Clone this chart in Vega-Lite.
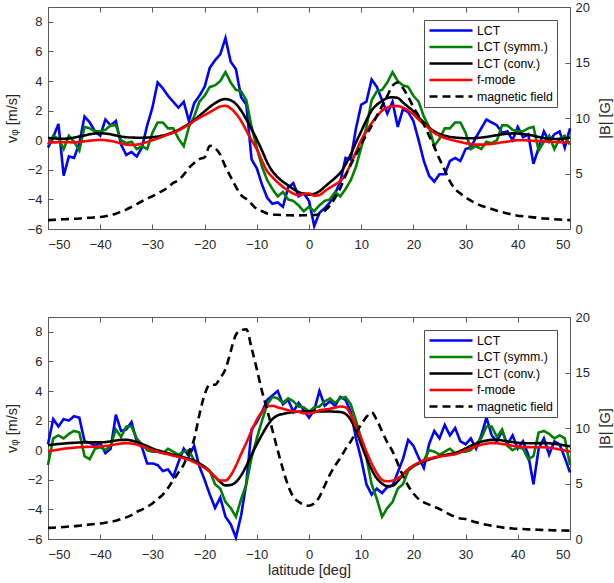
{
  "$schema": "https://vega.github.io/schema/vega-lite/v6.json",
  "background": "white",
  "padding": {"left": 3, "top": 0, "right": 4, "bottom": 2},
  "bounds": "flush",
  "spacing": 88,
  "datasets": {
    "top": [
      {"lat": -50, "lct": -0.5, "sym": -0.3, "conv": 0.15, "fm": -0.15, "B": 0.8},
      {"lat": -49, "lct": 0.2, "sym": 0.3, "conv": 0.12, "fm": -0.15, "B": 0.82},
      {"lat": -48, "lct": 1.1, "sym": 0.1, "conv": 0.1, "fm": -0.14, "B": 0.85},
      {"lat": -47, "lct": -2.4, "sym": -0.6, "conv": 0.1, "fm": -0.13, "B": 0.88},
      {"lat": -46, "lct": -1.1, "sym": 0.3, "conv": 0.12, "fm": -0.14, "B": 0.9},
      {"lat": -45, "lct": -1.2, "sym": -0.1, "conv": 0.18, "fm": -0.15, "B": 0.92},
      {"lat": -44, "lct": -0.2, "sym": -0.7, "conv": 0.25, "fm": -0.12, "B": 0.95},
      {"lat": -43, "lct": 1.6, "sym": 0.9, "conv": 0.32, "fm": -0.08, "B": 1.0},
      {"lat": -42, "lct": 1.2, "sym": 0.8, "conv": 0.4, "fm": -0.03, "B": 1.02},
      {"lat": -41, "lct": 0.6, "sym": 0.6, "conv": 0.45, "fm": 0.0, "B": 1.05},
      {"lat": -40, "lct": 0.3, "sym": 0.6, "conv": 0.47, "fm": 0.02, "B": 1.08},
      {"lat": -39, "lct": 1.4, "sym": 0.7, "conv": 0.45, "fm": 0.0, "B": 1.15},
      {"lat": -38, "lct": 1.0, "sym": 1.0, "conv": 0.4, "fm": -0.05, "B": 1.25},
      {"lat": -37, "lct": 1.3, "sym": 1.0, "conv": 0.32, "fm": -0.12, "B": 1.38},
      {"lat": -36, "lct": -0.3, "sym": 0.0, "conv": 0.25, "fm": -0.22, "B": 1.55},
      {"lat": -35, "lct": -1.0, "sym": -0.2, "conv": 0.2, "fm": -0.3, "B": 1.75},
      {"lat": -34, "lct": -0.8, "sym": -0.1, "conv": 0.18, "fm": -0.32, "B": 2.0},
      {"lat": -33, "lct": -1.1, "sym": -0.6, "conv": 0.17, "fm": -0.3, "B": 2.25},
      {"lat": -32, "lct": -0.5, "sym": -0.4, "conv": 0.17, "fm": -0.22, "B": 2.5},
      {"lat": -31, "lct": 1.0, "sym": -0.6, "conv": 0.18, "fm": -0.12, "B": 2.75},
      {"lat": -30, "lct": 2.2, "sym": 0.5, "conv": 0.2, "fm": 0.0, "B": 2.95},
      {"lat": -29, "lct": 3.9, "sym": 1.2, "conv": 0.25, "fm": 0.12, "B": 3.2},
      {"lat": -28, "lct": 3.5, "sym": 1.2, "conv": 0.32, "fm": 0.25, "B": 3.45},
      {"lat": -27, "lct": 3.0, "sym": 0.8, "conv": 0.42, "fm": 0.38, "B": 3.75},
      {"lat": -26, "lct": 2.6, "sym": 0.8, "conv": 0.55, "fm": 0.5, "B": 4.15},
      {"lat": -25, "lct": 2.2, "sym": 0.1, "conv": 0.7, "fm": 0.65, "B": 4.4},
      {"lat": -24, "lct": 2.6, "sym": -0.4, "conv": 0.9, "fm": 0.85, "B": 4.9},
      {"lat": -23, "lct": 1.3, "sym": 0.9, "conv": 1.1, "fm": 1.05, "B": 5.5},
      {"lat": -22, "lct": 2.5, "sym": 1.6, "conv": 1.35, "fm": 1.3, "B": 5.95},
      {"lat": -21, "lct": 3.0, "sym": 2.6, "conv": 1.65, "fm": 1.5, "B": 6.3},
      {"lat": -20, "lct": 3.6, "sym": 3.0, "conv": 1.95, "fm": 1.7, "B": 6.45},
      {"lat": -19, "lct": 4.9, "sym": 3.6, "conv": 2.25, "fm": 1.9, "B": 7.5},
      {"lat": -18, "lct": 5.4, "sym": 3.7, "conv": 2.5, "fm": 2.1, "B": 7.3},
      {"lat": -17, "lct": 5.8, "sym": 4.0, "conv": 2.7, "fm": 2.28, "B": 6.7},
      {"lat": -16, "lct": 6.9, "sym": 4.6, "conv": 2.78, "fm": 2.32, "B": 5.6},
      {"lat": -15, "lct": 5.3, "sym": 3.9, "conv": 2.7, "fm": 2.15, "B": 4.7},
      {"lat": -14, "lct": 4.8, "sym": 3.4, "conv": 2.45, "fm": 1.8, "B": 3.8},
      {"lat": -13, "lct": 2.9, "sym": 3.3, "conv": 2.0, "fm": 1.3, "B": 3.05},
      {"lat": -12, "lct": 2.4, "sym": 2.7, "conv": 1.4, "fm": 0.65, "B": 2.7},
      {"lat": -11, "lct": -1.3, "sym": 0.9, "conv": 0.75, "fm": 0.0, "B": 2.25},
      {"lat": -10, "lct": -1.9, "sym": -0.5, "conv": 0.05, "fm": -0.6, "B": 1.8},
      {"lat": -9, "lct": -3.0, "sym": -1.8, "conv": -0.7, "fm": -1.4, "B": 1.6},
      {"lat": -8, "lct": -3.9, "sym": -2.7, "conv": -1.5, "fm": -2.1, "B": 1.4},
      {"lat": -7, "lct": -4.3, "sym": -3.3, "conv": -2.1, "fm": -2.5, "B": 1.32},
      {"lat": -6, "lct": -4.2, "sym": -3.8, "conv": -2.5, "fm": -2.85, "B": 1.28},
      {"lat": -5, "lct": -4.5, "sym": -3.5, "conv": -2.8, "fm": -3.15, "B": 1.25},
      {"lat": -4, "lct": -3.2, "sym": -4.0, "conv": -3.05, "fm": -3.4, "B": 1.24},
      {"lat": -3, "lct": -2.9, "sym": -4.1, "conv": -3.3, "fm": -3.6, "B": 1.23},
      {"lat": -2, "lct": -3.8, "sym": -4.4, "conv": -3.5, "fm": -3.72, "B": 1.23},
      {"lat": -1, "lct": -3.6, "sym": -4.8, "conv": -3.62, "fm": -3.62, "B": 1.24},
      {"lat": 0, "lct": -4.1, "sym": -4.5, "conv": -3.68, "fm": -3.6, "B": 1.25},
      {"lat": 1, "lct": -5.8, "sym": -4.8, "conv": -3.62, "fm": -3.75, "B": 1.26},
      {"lat": 2, "lct": -4.9, "sym": -4.4, "conv": -3.45, "fm": -3.7, "B": 1.35},
      {"lat": 3, "lct": -4.6, "sym": -4.1, "conv": -3.15, "fm": -3.45, "B": 1.65},
      {"lat": 4, "lct": -4.2, "sym": -4.0, "conv": -2.85, "fm": -3.2, "B": 2.1},
      {"lat": 5, "lct": -3.6, "sym": -3.5, "conv": -2.55, "fm": -3.0, "B": 2.8},
      {"lat": 6, "lct": -2.8, "sym": -3.8, "conv": -2.2, "fm": -2.75, "B": 3.7},
      {"lat": 7, "lct": -1.2, "sym": -3.3, "conv": -1.65, "fm": -2.3, "B": 4.8},
      {"lat": 8, "lct": -1.3, "sym": -2.7, "conv": -0.95, "fm": -1.6, "B": 5.8},
      {"lat": 9, "lct": 0.8, "sym": -1.8, "conv": -0.15, "fm": -0.8, "B": 6.7},
      {"lat": 10, "lct": 2.4, "sym": -0.5, "conv": 0.6, "fm": 0.0, "B": 7.6},
      {"lat": 11, "lct": 2.6, "sym": 0.9, "conv": 1.35, "fm": 0.6, "B": 8.5},
      {"lat": 12, "lct": 4.1, "sym": 2.7, "conv": 2.0, "fm": 1.15, "B": 9.3},
      {"lat": 13, "lct": 3.6, "sym": 3.3, "conv": 2.4, "fm": 1.6, "B": 10.2},
      {"lat": 14, "lct": 2.7, "sym": 3.4, "conv": 2.65, "fm": 2.0, "B": 11.1},
      {"lat": 15, "lct": 1.8, "sym": 3.9, "conv": 2.85, "fm": 2.2, "B": 12.0},
      {"lat": 16, "lct": 2.6, "sym": 4.6, "conv": 2.9, "fm": 2.3, "B": 12.9},
      {"lat": 17, "lct": 0.9, "sym": 4.0, "conv": 2.85, "fm": 2.3, "B": 13.2},
      {"lat": 18, "lct": 2.1, "sym": 3.7, "conv": 2.55, "fm": 2.2, "B": 12.7},
      {"lat": 19, "lct": 1.9, "sym": 3.6, "conv": 2.25, "fm": 2.0, "B": 11.9},
      {"lat": 20, "lct": 1.3, "sym": 3.0, "conv": 1.95, "fm": 1.75, "B": 11.0},
      {"lat": 21, "lct": 0.0, "sym": 2.6, "conv": 1.55, "fm": 1.4, "B": 10.2},
      {"lat": 22, "lct": -1.4, "sym": 1.6, "conv": 1.2, "fm": 1.1, "B": 9.4},
      {"lat": 23, "lct": -2.4, "sym": 0.9, "conv": 0.85, "fm": 0.8, "B": 8.4},
      {"lat": 24, "lct": -2.8, "sym": -0.4, "conv": 0.6, "fm": 0.5, "B": 7.4},
      {"lat": 25, "lct": -2.3, "sym": 0.1, "conv": 0.42, "fm": 0.3, "B": 6.3},
      {"lat": 26, "lct": -2.3, "sym": 0.8, "conv": 0.3, "fm": 0.15, "B": 5.3},
      {"lat": 27, "lct": -1.4, "sym": 0.8, "conv": 0.22, "fm": 0.05, "B": 4.3},
      {"lat": 28, "lct": -1.2, "sym": 1.2, "conv": 0.18, "fm": -0.04, "B": 3.6},
      {"lat": 29, "lct": -1.4, "sym": 1.2, "conv": 0.15, "fm": -0.12, "B": 3.2},
      {"lat": 30, "lct": -0.6, "sym": 0.5, "conv": 0.13, "fm": -0.2, "B": 2.85},
      {"lat": 31, "lct": -0.5, "sym": -0.6, "conv": 0.13, "fm": -0.25, "B": 2.55},
      {"lat": 32, "lct": 0.2, "sym": -0.4, "conv": 0.15, "fm": -0.3, "B": 2.3},
      {"lat": 33, "lct": 0.8, "sym": -0.6, "conv": 0.18, "fm": -0.3, "B": 2.1},
      {"lat": 34, "lct": 1.4, "sym": -0.1, "conv": 0.22, "fm": -0.28, "B": 1.95},
      {"lat": 35, "lct": 1.2, "sym": -0.2, "conv": 0.28, "fm": -0.25, "B": 1.8},
      {"lat": 36, "lct": 1.0, "sym": 0.0, "conv": 0.34, "fm": -0.2, "B": 1.65},
      {"lat": 37, "lct": 0.5, "sym": 1.0, "conv": 0.4, "fm": -0.14, "B": 1.52},
      {"lat": 38, "lct": 0.6, "sym": 1.0, "conv": 0.44, "fm": -0.1, "B": 1.4},
      {"lat": 39, "lct": 0.0, "sym": 0.7, "conv": 0.46, "fm": -0.04, "B": 1.3},
      {"lat": 40, "lct": 0.9, "sym": 0.6, "conv": 0.45, "fm": 0.0, "B": 1.2},
      {"lat": 41, "lct": 0.2, "sym": 0.6, "conv": 0.42, "fm": 0.0, "B": 1.15},
      {"lat": 42, "lct": 0.4, "sym": 0.8, "conv": 0.37, "fm": -0.02, "B": 1.1},
      {"lat": 43, "lct": -1.6, "sym": 0.9, "conv": 0.3, "fm": -0.04, "B": 1.05},
      {"lat": 44, "lct": -0.5, "sym": -0.7, "conv": 0.22, "fm": -0.06, "B": 1.0},
      {"lat": 45, "lct": 0.6, "sym": -0.1, "conv": 0.15, "fm": -0.08, "B": 0.95},
      {"lat": 46, "lct": -0.1, "sym": 0.3, "conv": 0.1, "fm": -0.1, "B": 0.92},
      {"lat": 47, "lct": 0.4, "sym": -0.6, "conv": 0.08, "fm": -0.12, "B": 0.88},
      {"lat": 48, "lct": 0.6, "sym": 0.1, "conv": 0.08, "fm": -0.13, "B": 0.85},
      {"lat": 49, "lct": -0.5, "sym": 0.3, "conv": 0.12, "fm": -0.15, "B": 0.82},
      {"lat": 50, "lct": 0.8, "sym": -0.3, "conv": 0.18, "fm": -0.16, "B": 0.8}
    ],
    "bottom": [
      {"lat": -50, "lct": 0.4, "sym": -1.0, "conv": 0.35, "fm": -0.08, "B": 1.0},
      {"lat": -49, "lct": 2.1, "sym": 0.8, "conv": 0.38, "fm": -0.02, "B": 1.02},
      {"lat": -48, "lct": 1.6, "sym": 1.0, "conv": 0.42, "fm": 0.04, "B": 1.05},
      {"lat": -47, "lct": 2.1, "sym": 0.8, "conv": 0.45, "fm": 0.1, "B": 1.08},
      {"lat": -46, "lct": 2.0, "sym": 1.1, "conv": 0.48, "fm": 0.14, "B": 1.12},
      {"lat": -45, "lct": 2.3, "sym": 1.3, "conv": 0.5, "fm": 0.17, "B": 1.15},
      {"lat": -44, "lct": 2.2, "sym": 1.2, "conv": 0.52, "fm": 0.2, "B": 1.2},
      {"lat": -43, "lct": 0.6, "sym": -0.4, "conv": 0.53, "fm": 0.22, "B": 1.25},
      {"lat": -42, "lct": 0.5, "sym": -0.6, "conv": 0.53, "fm": 0.23, "B": 1.3},
      {"lat": -41, "lct": 0.3, "sym": 0.1, "conv": 0.53, "fm": 0.24, "B": 1.35},
      {"lat": -40, "lct": 0.5, "sym": 0.2, "conv": 0.53, "fm": 0.25, "B": 1.4},
      {"lat": -39, "lct": -0.2, "sym": 0.0, "conv": 0.55, "fm": 0.28, "B": 1.47},
      {"lat": -38, "lct": 0.1, "sym": 0.3, "conv": 0.6, "fm": 0.33, "B": 1.55},
      {"lat": -37, "lct": 2.4, "sym": 1.4, "conv": 0.65, "fm": 0.4, "B": 1.65},
      {"lat": -36, "lct": 1.3, "sym": 0.9, "conv": 0.7, "fm": 0.45, "B": 1.8},
      {"lat": -35, "lct": 1.4, "sym": 1.6, "conv": 0.7, "fm": 0.47, "B": 1.95},
      {"lat": -34, "lct": 1.9, "sym": 1.6, "conv": 0.65, "fm": 0.45, "B": 2.15},
      {"lat": -33, "lct": 0.6, "sym": 0.8, "conv": 0.55, "fm": 0.38, "B": 2.45},
      {"lat": -32, "lct": 0.2, "sym": 0.4, "conv": 0.42, "fm": 0.27, "B": 2.65},
      {"lat": -31, "lct": -0.9, "sym": 0.0, "conv": 0.28, "fm": 0.14, "B": 2.9},
      {"lat": -30, "lct": -0.9, "sym": -0.1, "conv": 0.12, "fm": 0.0, "B": 3.2},
      {"lat": -29, "lct": -1.0, "sym": -0.1, "conv": 0.0, "fm": -0.1, "B": 3.6},
      {"lat": -28, "lct": -1.4, "sym": -0.2, "conv": -0.1, "fm": -0.2, "B": 4.0},
      {"lat": -27, "lct": -1.3, "sym": 0.1, "conv": -0.2, "fm": -0.28, "B": 4.6},
      {"lat": -26, "lct": -1.8, "sym": -0.1, "conv": -0.3, "fm": -0.37, "B": 5.3},
      {"lat": -25, "lct": -0.8, "sym": -0.3, "conv": -0.38, "fm": -0.45, "B": 6.0},
      {"lat": -24, "lct": 0.1, "sym": -0.1, "conv": -0.48, "fm": -0.55, "B": 6.7},
      {"lat": -23, "lct": -0.4, "sym": 0.0, "conv": -0.58, "fm": -0.65, "B": 7.8},
      {"lat": -22, "lct": 0.3, "sym": -0.7, "conv": -0.7, "fm": -0.8, "B": 9.0},
      {"lat": -21, "lct": -1.1, "sym": -0.9, "conv": -0.9, "fm": -1.0, "B": 11.2},
      {"lat": -20, "lct": -2.0, "sym": -1.1, "conv": -1.15, "fm": -1.2, "B": 13.0},
      {"lat": -19, "lct": -3.0, "sym": -1.4, "conv": -1.45, "fm": -1.45, "B": 13.9},
      {"lat": -18, "lct": -3.9, "sym": -2.3, "conv": -1.8, "fm": -1.8, "B": 13.9},
      {"lat": -17, "lct": -3.2, "sym": -2.6, "conv": -2.15, "fm": -2.05, "B": 14.5},
      {"lat": -16, "lct": -4.5, "sym": -3.5, "conv": -2.38, "fm": -2.05, "B": 15.3},
      {"lat": -15, "lct": -5.0, "sym": -3.9, "conv": -2.35, "fm": -1.7, "B": 16.9},
      {"lat": -14, "lct": -5.9, "sym": -4.5, "conv": -2.15, "fm": -1.05, "B": 18.4},
      {"lat": -13, "lct": -4.4, "sym": -3.3, "conv": -1.7, "fm": -0.25, "B": 18.8},
      {"lat": -12, "lct": -2.2, "sym": -2.3, "conv": -1.05, "fm": 0.5, "B": 18.9},
      {"lat": -11, "lct": 1.4, "sym": -0.5, "conv": -0.3, "fm": 1.3, "B": 17.2},
      {"lat": -10, "lct": 1.9, "sym": 0.8, "conv": 0.4, "fm": 2.05, "B": 15.3},
      {"lat": -9, "lct": 2.6, "sym": 2.0, "conv": 1.05, "fm": 2.6, "B": 13.3},
      {"lat": -8, "lct": 3.4, "sym": 3.1, "conv": 1.65, "fm": 2.95, "B": 11.6},
      {"lat": -7, "lct": 3.7, "sym": 3.6, "conv": 2.1, "fm": 3.0, "B": 9.8},
      {"lat": -6, "lct": 4.0, "sym": 3.5, "conv": 2.35, "fm": 2.9, "B": 8.0},
      {"lat": -5, "lct": 3.1, "sym": 3.2, "conv": 2.45, "fm": 2.8, "B": 6.3},
      {"lat": -4, "lct": 3.4, "sym": 3.5, "conv": 2.52, "fm": 2.7, "B": 4.8},
      {"lat": -3, "lct": 2.6, "sym": 3.3, "conv": 2.58, "fm": 2.63, "B": 3.8},
      {"lat": -2, "lct": 3.2, "sym": 2.95, "conv": 2.6, "fm": 2.6, "B": 3.35},
      {"lat": -1, "lct": 2.7, "sym": 2.9, "conv": 2.62, "fm": 2.5, "B": 3.1},
      {"lat": 0, "lct": 2.2, "sym": 2.6, "conv": 2.62, "fm": 2.5, "B": 3.0},
      {"lat": 1, "lct": 2.7, "sym": 2.9, "conv": 2.62, "fm": 2.55, "B": 3.2},
      {"lat": 2, "lct": 4.0, "sym": 2.95, "conv": 2.62, "fm": 2.7, "B": 3.8},
      {"lat": 3, "lct": 3.0, "sym": 3.3, "conv": 2.62, "fm": 2.75, "B": 4.8},
      {"lat": 4, "lct": 3.3, "sym": 3.5, "conv": 2.62, "fm": 2.8, "B": 5.8},
      {"lat": 5, "lct": 3.0, "sym": 3.2, "conv": 2.6, "fm": 2.88, "B": 6.6},
      {"lat": 6, "lct": 3.6, "sym": 3.5, "conv": 2.58, "fm": 2.95, "B": 7.3},
      {"lat": 7, "lct": 3.4, "sym": 3.6, "conv": 2.45, "fm": 2.9, "B": 8.1},
      {"lat": 8, "lct": 2.6, "sym": 3.1, "conv": 2.05, "fm": 2.4, "B": 8.8},
      {"lat": 9, "lct": 0.8, "sym": 2.0, "conv": 1.35, "fm": 1.6, "B": 9.6},
      {"lat": 10, "lct": -0.6, "sym": 0.8, "conv": 0.4, "fm": 0.8, "B": 10.3},
      {"lat": 11, "lct": -2.3, "sym": -0.5, "conv": -0.5, "fm": -0.1, "B": 11.0},
      {"lat": 12, "lct": -3.0, "sym": -2.3, "conv": -1.3, "fm": -0.9, "B": 11.4},
      {"lat": 13, "lct": -2.6, "sym": -3.3, "conv": -1.9, "fm": -1.55, "B": 10.7},
      {"lat": 14, "lct": -2.9, "sym": -4.5, "conv": -2.25, "fm": -2.0, "B": 9.7},
      {"lat": 15, "lct": -2.5, "sym": -3.9, "conv": -2.42, "fm": -2.1, "B": 8.7},
      {"lat": 16, "lct": -2.4, "sym": -3.5, "conv": -2.4, "fm": -2.05, "B": 7.9},
      {"lat": 17, "lct": -1.5, "sym": -2.6, "conv": -2.1, "fm": -1.9, "B": 6.8},
      {"lat": 18, "lct": -0.6, "sym": -2.3, "conv": -1.65, "fm": -1.65, "B": 5.7},
      {"lat": 19, "lct": 0.7, "sym": -1.4, "conv": -1.3, "fm": -1.3, "B": 4.8},
      {"lat": 20, "lct": 0.3, "sym": -1.1, "conv": -1.05, "fm": -1.05, "B": 4.1},
      {"lat": 21, "lct": -0.5, "sym": -0.9, "conv": -0.88, "fm": -0.85, "B": 3.6},
      {"lat": 22, "lct": -1.2, "sym": -0.7, "conv": -0.76, "fm": -0.68, "B": 3.3},
      {"lat": 23, "lct": 0.4, "sym": 0.0, "conv": -0.63, "fm": -0.56, "B": 3.1},
      {"lat": 24, "lct": 1.3, "sym": -0.1, "conv": -0.52, "fm": -0.48, "B": 2.9},
      {"lat": 25, "lct": 0.8, "sym": -0.3, "conv": -0.42, "fm": -0.43, "B": 2.7},
      {"lat": 26, "lct": 1.7, "sym": -0.1, "conv": -0.33, "fm": -0.38, "B": 2.45},
      {"lat": 27, "lct": 1.0, "sym": 0.1, "conv": -0.26, "fm": -0.33, "B": 2.2},
      {"lat": 28, "lct": 1.5, "sym": -0.2, "conv": -0.2, "fm": -0.27, "B": 2.0},
      {"lat": 29, "lct": 0.6, "sym": -0.1, "conv": -0.05, "fm": -0.15, "B": 1.85},
      {"lat": 30, "lct": 0.4, "sym": -0.1, "conv": 0.12, "fm": 0.0, "B": 1.8},
      {"lat": 31, "lct": 0.8, "sym": 0.0, "conv": 0.3, "fm": 0.12, "B": 1.65},
      {"lat": 32, "lct": 0.1, "sym": 0.4, "conv": 0.45, "fm": 0.25, "B": 1.5},
      {"lat": 33, "lct": 1.0, "sym": 0.8, "conv": 0.57, "fm": 0.37, "B": 1.38},
      {"lat": 34, "lct": 2.2, "sym": 1.6, "conv": 0.65, "fm": 0.44, "B": 1.28},
      {"lat": 35, "lct": 1.0, "sym": 1.6, "conv": 0.7, "fm": 0.48, "B": 1.2},
      {"lat": 36, "lct": 0.6, "sym": 0.9, "conv": 0.7, "fm": 0.47, "B": 1.12},
      {"lat": 37, "lct": 1.3, "sym": 1.4, "conv": 0.66, "fm": 0.42, "B": 1.05},
      {"lat": 38, "lct": 0.4, "sym": 0.3, "conv": 0.6, "fm": 0.37, "B": 1.0},
      {"lat": 39, "lct": 1.0, "sym": 0.0, "conv": 0.55, "fm": 0.3, "B": 0.95},
      {"lat": 40, "lct": 0.1, "sym": 0.2, "conv": 0.5, "fm": 0.25, "B": 0.92},
      {"lat": 41, "lct": 0.6, "sym": 0.1, "conv": 0.48, "fm": 0.22, "B": 0.9},
      {"lat": 42, "lct": -0.3, "sym": -0.6, "conv": 0.47, "fm": 0.21, "B": 0.87},
      {"lat": 43, "lct": -2.3, "sym": -0.4, "conv": 0.47, "fm": 0.2, "B": 0.85},
      {"lat": 44, "lct": 0.1, "sym": 1.2, "conv": 0.48, "fm": 0.2, "B": 0.83},
      {"lat": 45, "lct": 0.8, "sym": 1.3, "conv": 0.48, "fm": 0.2, "B": 0.81},
      {"lat": 46, "lct": -0.3, "sym": 1.1, "conv": 0.47, "fm": 0.17, "B": 0.8},
      {"lat": 47, "lct": 0.6, "sym": 0.8, "conv": 0.43, "fm": 0.12, "B": 0.78},
      {"lat": 48, "lct": 0.4, "sym": 1.0, "conv": 0.38, "fm": 0.05, "B": 0.77},
      {"lat": 49, "lct": -0.5, "sym": 0.8, "conv": 0.32, "fm": -0.02, "B": 0.76},
      {"lat": 50, "lct": -1.5, "sym": -1.0, "conv": 0.26, "fm": -0.1, "B": 0.75}
    ]
  },
  "resolve": {
    "scale": {"color": "independent", "strokeDash": "independent"},
    "legend": {"color": "independent", "strokeDash": "independent"}
  },
  "vconcat": [
    {
      "width": 522,
      "height": 222,
      "data": {"name": "top"},
      "layer": [
        {
          "encoding": {
            "x": {"field": "lat", "type": "quantitative", "scale": {"domain": [-50, 50], "nice": false},
                  "axis": {"orient": "bottom", "values": [-50, -40, -30, -20, -10, 0, 10, 20, 30, 40, 50], "title": null, "labelPadding": 14}},
            "y": {"field": "v", "type": "quantitative", "scale": {"domain": [-6, 9], "nice": false},
                  "axis": {"orient": "left", "values": [-6, -4, -2, 0, 2, 4, 6, 8], "title": "vᵩ [m/s]", "titlePadding": 8}},
            "color": {"field": "series", "type": "nominal",
                      "scale": {"domain": ["lct", "sym", "conv", "fm", "B"], "range": ["#0000ff", "#008000", "#000000", "#ff0000", "#000000"]},
                      "legend": {"title": null, "orient": "none", "legendX": 376, "legendY": 13, "padding": 4, "strokeColor": "#4d4d4d", "fillColor": "white",
                                 "symbolType": "stroke", "symbolSize": 1849, "symbolStrokeWidth": 2.4, "clipHeight": 13, "rowPadding": 3.5,
                                 "labelFont": "Liberation Sans", "labelFontSize": 12.3, "labelColor": "#000000", "labelOffset": 3,
                                 "labelExpr": "datum.label == 'lct' ? 'LCT' : datum.label == 'sym' ? 'LCT (symm.)' : datum.label == 'conv' ? 'LCT (conv.)' : datum.label == 'fm' ? 'f-mode' : 'magnetic field'"}},
            "strokeDash": {"field": "series", "type": "nominal",
                           "scale": {"domain": ["lct", "sym", "conv", "fm", "B"], "range": [[1, 0], [1, 0], [1, 0], [1, 0], [8, 5]]},
                           "legend": {"title": null, "orient": "none", "legendX": 376, "legendY": 13, "padding": 4, "strokeColor": "#4d4d4d", "fillColor": "white",
                                      "symbolType": "stroke", "symbolSize": 1849, "symbolStrokeWidth": 2.4, "clipHeight": 13, "rowPadding": 3.5,
                                      "labelFont": "Liberation Sans", "labelFontSize": 12.3, "labelColor": "#000000", "labelOffset": 3,
                                      "labelExpr": "datum.label == 'lct' ? 'LCT' : datum.label == 'sym' ? 'LCT (symm.)' : datum.label == 'conv' ? 'LCT (conv.)' : datum.label == 'fm' ? 'f-mode' : 'magnetic field'"}}
          },
          "layer": [
            {"transform": [{"fold": ["lct"], "as": ["series", "v"]}], "mark": {"type": "line", "strokeWidth": 2.6}},
            {"transform": [{"fold": ["sym"], "as": ["series", "v"]}], "mark": {"type": "line", "strokeWidth": 2.6}},
            {"transform": [{"fold": ["conv"], "as": ["series", "v"]}], "mark": {"type": "line", "strokeWidth": 2.6, "interpolate": "monotone"}},
            {"transform": [{"fold": ["fm"], "as": ["series", "v"]}], "mark": {"type": "line", "strokeWidth": 2.6, "interpolate": "monotone"}}
          ]
        },
        {
          "transform": [{"fold": ["B"], "as": ["series", "b"]}],
          "mark": {"type": "line", "strokeWidth": 2.6, "interpolate": "monotone"},
          "encoding": {
            "x": {"field": "lat", "type": "quantitative", "scale": {"domain": [-50, 50], "nice": false},
                  "axis": {"orient": "top", "values": [-50, -40, -30, -20, -10, 0, 10, 20, 30, 40, 50], "labels": false, "title": null}},
            "y": {"field": "b", "type": "quantitative", "scale": {"domain": [0, 20], "nice": false},
                  "axis": {"orient": "right", "values": [0, 5, 10, 15, 20], "title": "|B| [G]", "titleAngle": 270, "titleBaseline": "top", "titlePadding": 9, "labelPadding": 10}},
            "color": {"field": "series", "type": "nominal",
                      "scale": {"domain": ["lct", "sym", "conv", "fm", "B"], "range": ["#0000ff", "#008000", "#000000", "#ff0000", "#000000"]}},
            "strokeDash": {"field": "series", "type": "nominal",
                           "scale": {"domain": ["lct", "sym", "conv", "fm", "B"], "range": [[1, 0], [1, 0], [1, 0], [1, 0], [8, 5]]}}
          }
        }
      ],
      "resolve": {"scale": {"y": "independent"}, "axis": {"x": "independent"}}
    },
    {
      "width": 522,
      "height": 222,
      "data": {"name": "bottom"},
      "layer": [
        {
          "encoding": {
            "x": {"field": "lat", "type": "quantitative", "scale": {"domain": [-50, 50], "nice": false},
                  "axis": {"orient": "bottom", "values": [-50, -40, -30, -20, -10, 0, 10, 20, 30, 40, 50], "title": "latitude [deg]", "labelPadding": 14, "titlePadding": 2}},
            "y": {"field": "v", "type": "quantitative", "scale": {"domain": [-6, 9], "nice": false},
                  "axis": {"orient": "left", "values": [-6, -4, -2, 0, 2, 4, 6, 8], "title": "vᵩ [m/s]", "titlePadding": 8}},
            "color": {"field": "series", "type": "nominal",
                      "scale": {"domain": ["lct", "sym", "conv", "fm", "B"], "range": ["#0000ff", "#008000", "#000000", "#ff0000", "#000000"]},
                      "legend": {"title": null, "orient": "none", "legendX": 376, "legendY": 13, "padding": 4, "strokeColor": "#4d4d4d", "fillColor": "white",
                                 "symbolType": "stroke", "symbolSize": 1849, "symbolStrokeWidth": 2.4, "clipHeight": 13, "rowPadding": 3.5,
                                 "labelFont": "Liberation Sans", "labelFontSize": 12.3, "labelColor": "#000000", "labelOffset": 3,
                                 "labelExpr": "datum.label == 'lct' ? 'LCT' : datum.label == 'sym' ? 'LCT (symm.)' : datum.label == 'conv' ? 'LCT (conv.)' : datum.label == 'fm' ? 'f-mode' : 'magnetic field'"}},
            "strokeDash": {"field": "series", "type": "nominal",
                           "scale": {"domain": ["lct", "sym", "conv", "fm", "B"], "range": [[1, 0], [1, 0], [1, 0], [1, 0], [8, 5]]},
                           "legend": {"title": null, "orient": "none", "legendX": 376, "legendY": 13, "padding": 4, "strokeColor": "#4d4d4d", "fillColor": "white",
                                      "symbolType": "stroke", "symbolSize": 1849, "symbolStrokeWidth": 2.4, "clipHeight": 13, "rowPadding": 3.5,
                                      "labelFont": "Liberation Sans", "labelFontSize": 12.3, "labelColor": "#000000", "labelOffset": 3,
                                      "labelExpr": "datum.label == 'lct' ? 'LCT' : datum.label == 'sym' ? 'LCT (symm.)' : datum.label == 'conv' ? 'LCT (conv.)' : datum.label == 'fm' ? 'f-mode' : 'magnetic field'"}}
          },
          "layer": [
            {"transform": [{"fold": ["lct"], "as": ["series", "v"]}], "mark": {"type": "line", "strokeWidth": 2.6}},
            {"transform": [{"fold": ["sym"], "as": ["series", "v"]}], "mark": {"type": "line", "strokeWidth": 2.6}},
            {"transform": [{"fold": ["conv"], "as": ["series", "v"]}], "mark": {"type": "line", "strokeWidth": 2.6, "interpolate": "monotone"}},
            {"transform": [{"fold": ["fm"], "as": ["series", "v"]}], "mark": {"type": "line", "strokeWidth": 2.6, "interpolate": "monotone"}}
          ]
        },
        {
          "transform": [{"fold": ["B"], "as": ["series", "b"]}],
          "mark": {"type": "line", "strokeWidth": 2.6, "interpolate": "monotone"},
          "encoding": {
            "x": {"field": "lat", "type": "quantitative", "scale": {"domain": [-50, 50], "nice": false},
                  "axis": {"orient": "top", "values": [-50, -40, -30, -20, -10, 0, 10, 20, 30, 40, 50], "labels": false, "title": null}},
            "y": {"field": "b", "type": "quantitative", "scale": {"domain": [0, 20], "nice": false},
                  "axis": {"orient": "right", "values": [0, 5, 10, 15, 20], "title": "|B| [G]", "titleAngle": 270, "titleBaseline": "top", "titlePadding": 9, "labelPadding": 10}},
            "color": {"field": "series", "type": "nominal",
                      "scale": {"domain": ["lct", "sym", "conv", "fm", "B"], "range": ["#0000ff", "#008000", "#000000", "#ff0000", "#000000"]}},
            "strokeDash": {"field": "series", "type": "nominal",
                           "scale": {"domain": ["lct", "sym", "conv", "fm", "B"], "range": [[1, 0], [1, 0], [1, 0], [1, 0], [8, 5]]}}
          }
        }
      ],
      "resolve": {"scale": {"y": "independent"}, "axis": {"x": "independent"}}
    }
  ],
  "config": {
    "view": {"stroke": "#5a5a5a", "strokeWidth": 1},
    "axis": {
      "labelFont": "Liberation Sans",
      "labelFontSize": 13,
      "labelColor": "#262626",
      "titleFont": "Liberation Sans",
      "titleFontSize": 14.5,
      "titleFontWeight": "normal",
      "titleColor": "#262626",
      "tickColor": "#5a5a5a",
      "tickSize": -5,
      "tickWidth": 1,
      "labelPadding": 11,
      "domain": false,
      "grid": false
    }
  }
}
